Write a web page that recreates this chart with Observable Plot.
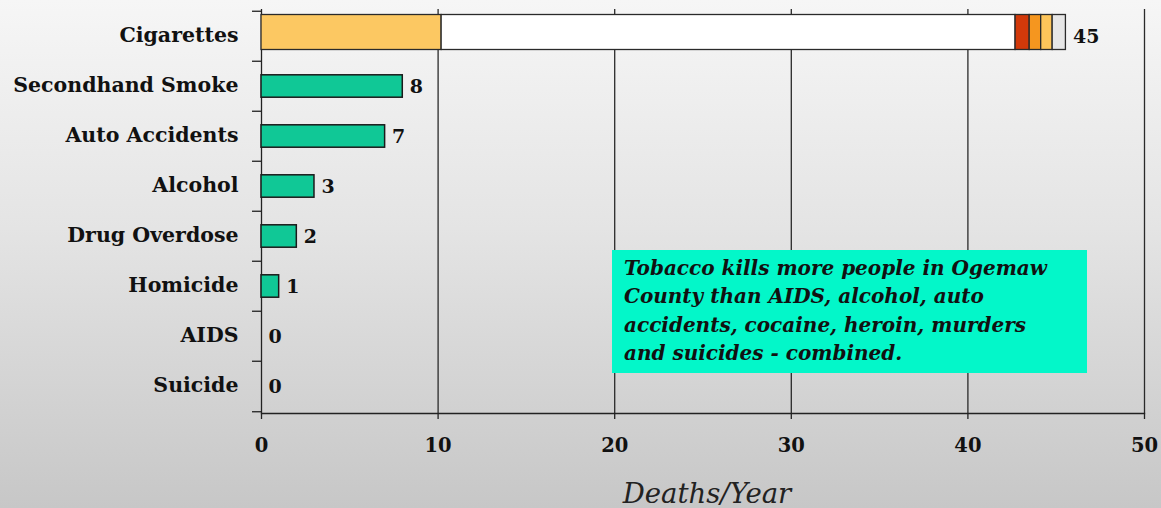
<!DOCTYPE html>
<html>
<head>
<meta charset="utf-8">
<script src="https://cdn.jsdelivr.net/npm/d3@7"></script>
<script src="https://cdn.jsdelivr.net/npm/@observablehq/plot@0.6"></script>
<style>
  html, body { margin: 0; padding: 0; }
  #wrap {
    position: relative; width: 1161px; height: 508px; overflow: hidden;
    background: linear-gradient(to bottom, #f6f6f6 0%, #e4e4e4 45%, #c7c7c7 100%);
  }
  #note {
    position: absolute; left: 612px; top: 250px; width: 475px; height: 123px;
    padding: 4px 0 0 12px; box-sizing: border-box;
    background: #03f7c9;
    font-family: "DejaVu Serif", serif; font-weight: bold; font-style: italic;
    font-size: 20px; line-height: 28.3px; color: #111;
  }
</style>
</head>
<body>
<div id="wrap"><div id="note"></div></div>
<script>
// ---- data ----
const categories = ["Cigarettes", "Secondhand Smoke", "Auto Accidents", "Alcohol", "Drug Overdose", "Homicide", "AIDS", "Suicide"];
const deaths = [45, 8, 7, 3, 2, 1, 0, 0];
const cigaretteParts = ["Filter", "Paper", "Ember", "Flame", "Glow", "Ash"];
const cigaretteLengths = [10.2, 32.5, 0.8, 0.65, 0.65, 0.75];
const cigaretteColors = ["#fcc862", "#ffffff", "#d2390a", "#f5961f", "#fdc55a", "#e6e6e6"];
const xTicks = [0, 10, 20, 30, 40, 50];
const xLabel = "Deaths/Year";
const noteLines = [
  "Tobacco kills more people in Ogemaw",
  "County than AIDS, alcohol, auto",
  "accidents, cocaine, heroin, murders",
  "and suicides - combined."
];

// ---- derived tables ----
const cigaretteTotal = d3.sum(cigaretteLengths);
const rows = categories.map((c, i) => ({category: c, deaths: deaths[i], end: i === 0 ? cigaretteTotal : deaths[i]}));
const otherRows = rows.slice(1);
const cigRows = cigaretteParts.map((p, i) => ({category: categories[0], part: p, length: cigaretteLengths[i]}));

const W = 1161, H = 508;
const mTop = 9, mBottom = 95, mLeft = 261, mRight = 17;
const step = (H - mTop - mBottom) / categories.length;

const labelFont = "DejaVu Serif";
const chart = Plot.plot({
  width: W, height: H,
  marginTop: mTop, marginBottom: mBottom, marginLeft: mLeft, marginRight: mRight,
  style: {background: "transparent", overflow: "visible", color: "#111"},
  x: {domain: [0, 50], label: null},
  y: {domain: categories, padding: 0, label: null},
  color: {domain: cigaretteParts, range: cigaretteColors},
  marks: [
    Plot.gridX(xTicks.slice(1), {stroke: "#2a2a2a", strokeOpacity: 1, strokeWidth: 1.3}),
    Plot.ruleX([0], {stroke: "#222", strokeWidth: 1.3}),
    Plot.frame({anchor: "bottom", stroke: "#222", strokeWidth: 1.3}),
    // y ticks at band boundaries
    Plot.axisY({tickSize: 9, fill: "none", label: null, dy: -step / 2, stroke: "#222", strokeWidth: 1.3}),
    Plot.axisY([categories[categories.length - 1]], {tickSize: 9, fill: "none", label: null, dy: step / 2, stroke: "#222", strokeWidth: 1.3}),
    // y labels
    Plot.axisY({tickSize: 0, tickPadding: 23, label: null, dy: -1.5, fontFamily: labelFont, fontWeight: "bold", fontSize: 20.5, fill: "#111"}),
    // x axis
    Plot.axisX(xTicks, {tickSize: 6, tickPadding: 19, label: null, fontFamily: labelFont, fontWeight: "bold", fontSize: 19.5, stroke: "#222", strokeWidth: 1.3, fill: "#111"}),
    // bars
    Plot.barX(otherRows, {x: "deaths", y: "category", fill: "#10c896", stroke: "#1a1a1a", strokeWidth: 1.5, insetTop: 13.8, insetBottom: 13.8}),
    Plot.barX(cigRows, {x: "length", y: "category", fill: "part", stroke: "#2a2a2a", strokeWidth: 1.3, insetTop: 3.5, insetBottom: 11.5, order: null}),
    // value labels
    Plot.text(rows, {x: "end", y: "category", text: d => String(d.deaths), textAnchor: "start", dx: 7,
      fontFamily: labelFont, fontWeight: "bold", fontSize: 19, fill: "#111"}),
    // axis title
    Plot.text([xLabel], {frameAnchor: "bottom", text: d => d, lineAnchor: "bottom", dy: 89, dx: 4,
      fontFamily: labelFont, fontStyle: "italic", fontSize: 27.5, fill: "#222", fontWeight: "normal"})
  ]
});
document.getElementById("wrap").prepend(chart);
document.getElementById("note").innerHTML = noteLines.map(l => `<div>${l}</div>`).join("");
</script>
</body>
</html>
